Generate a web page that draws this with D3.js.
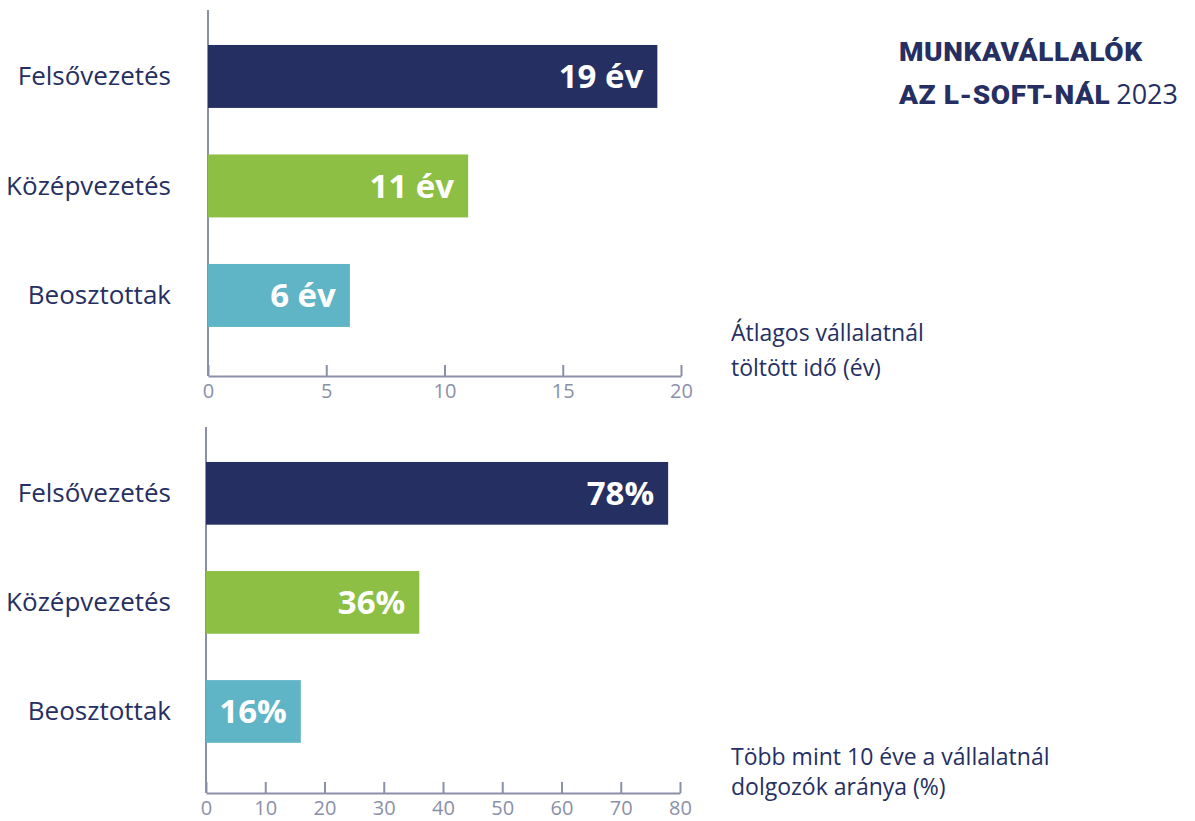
<!DOCTYPE html>
<html>
<head>
<meta charset="utf-8">
<script src="https://cdn.jsdelivr.net/npm/d3@7"></script>
<style>
  body { margin: 0; background: #fff; }
  svg { display: block; font-family: "Open Sans", sans-serif; }
</style>
</head>
<body>
<svg id="chart" width="1195" height="821"></svg>
<script>
// data
const categories = ["Felsővezetés", "Középvezetés", "Beosztottak"];
const tenureYears = [19, 11, 6];
const longTenureShare = [78, 36, 16];
const yearTicks = [0, 5, 10, 15, 20];
const shareTicks = [0, 10, 20, 30, 40, 50, 60, 70, 80];
const titleLines = ["MUNKAVÁLLALÓK", "AZ L-SOFT-NÁL"];
const titleYear = "2023";
const tenureNote = ["Átlagos vállalatnál", "töltött idő (év)"];
const shareNote = ["Több mint 10 éve a vállalatnál", "dolgozók aránya (%)"];

const barColors = ["#262f62", "#8cbf43", "#5fb4c6"];
const navy = "#262f62";
const axisGray = "#8b90a9";

const svg = d3.select("#chart");

const drawPanel = (cfg) => {
  const x = d3.scaleLinear().domain([0, cfg.max]).range([cfg.left, cfg.right]);
  const y = d3.scaleBand()
    .domain(categories)
    .range([cfg.bandTop, cfg.bandBottom])
    .paddingInner(0.425)
    .paddingOuter(0.2125);

  const g = svg.append("g");

  // vertical axis line
  g.append("line")
    .attr("x1", x(0)).attr("x2", x(0))
    .attr("y1", cfg.axisTop).attr("y2", cfg.axisY)
    .attr("stroke", axisGray)
    .attr("stroke-width", 2);

  // bars
  g.selectAll(".bar")
    .data(cfg.values)
    .enter()
    .append("rect")
    .attr("class", "bar")
    .attr("x", x(0))
    .attr("y", (d, i) => y(categories[i]))
    .attr("width", d => x(d) - x(0))
    .attr("height", y.bandwidth())
    .attr("fill", (d, i) => barColors[i]);

  // value labels
  g.selectAll(".value-label")
    .data(cfg.values)
    .enter()
    .append("text")
    .attr("class", "value-label")
    .attr("x", d => x(d) - 14)
    .attr("y", (d, i) => y(categories[i]) + y.bandwidth() / 2)
    .attr("dy", "0.36em")
    .attr("text-anchor", "end")
    .attr("fill", "#fff")
    .attr("font-size", 33)
    .attr("font-weight", 700)
    .text(d => cfg.format(d));

  // category labels
  g.selectAll(".cat-label")
    .data(categories)
    .enter()
    .append("text")
    .attr("class", "cat-label")
    .attr("x", 171)
    .attr("y", d => y(d) + y.bandwidth() / 2)
    .attr("dy", "0.33em")
    .attr("text-anchor", "end")
    .attr("fill", navy)
    .attr("font-size", 26)
    .text(d => d);

  // x axis
  const axis = g.append("g")
    .attr("transform", `translate(0,${cfg.axisY})`)
    .call(d3.axisBottom(x)
      .tickValues(cfg.ticks)
      .tickSizeInner(-11)
      .tickSizeOuter(0)
      .tickPadding(8));
  axis.select(".domain").attr("stroke", axisGray).attr("stroke-width", 2);
  axis.selectAll(".tick line").attr("stroke", axisGray).attr("stroke-width", 2);
  axis.selectAll(".tick text")
    .attr("fill", axisGray)
    .attr("font-size", 20)
    .attr("font-family", "Open Sans, sans-serif");

  // side note
  g.append("text")
    .attr("fill", navy)
    .attr("font-size", 23)
    .selectAll("tspan")
    .data(cfg.note)
    .enter()
    .append("tspan")
    .attr("x", 731)
    .attr("y", (d, i) => cfg.noteY + i * cfg.noteGap)
    .text(d => d);
};

drawPanel({
  values: tenureYears, max: 20, ticks: yearTicks,
  left: 208, right: 681, bandTop: 21.7, bandBottom: 350.2,
  axisTop: 10, axisY: 376,
  format: d => `${d} év`,
  note: tenureNote, noteY: 341, noteGap: 35
});

drawPanel({
  values: longTenureShare, max: 80, ticks: shareTicks,
  left: 206, right: 680, bandTop: 438.8, bandBottom: 766,
  axisTop: 427, axisY: 793,
  format: d => `${d}%`,
  note: shareNote, noteY: 765, noteGap: 30
});

// title: heavy, widened lettering
const titleScale = 1.12;
const titleG = svg.append("g")
  .attr("transform", `translate(899,0) scale(${titleScale},1)`);
const titleText = titleG.selectAll(".title-line")
  .data(titleLines)
  .enter()
  .append("text")
  .attr("class", "title-line")
  .attr("x", 0)
  .attr("y", (d, i) => 61 + i * 43)
  .attr("fill", navy)
  .attr("font-family", "Roboto, sans-serif")
  .attr("font-size", 25)
  .attr("font-weight", 900)
  .attr("letter-spacing", 0.5)
  .text(d => d);

const line2Width = titleText.nodes()[1].getComputedTextLength() * titleScale;
svg.append("text")
  .attr("x", 899 + line2Width + 6)
  .attr("y", 104)
  .attr("fill", navy)
  .attr("font-size", 27)
  .text(titleYear);
</script>
</body>
</html>
